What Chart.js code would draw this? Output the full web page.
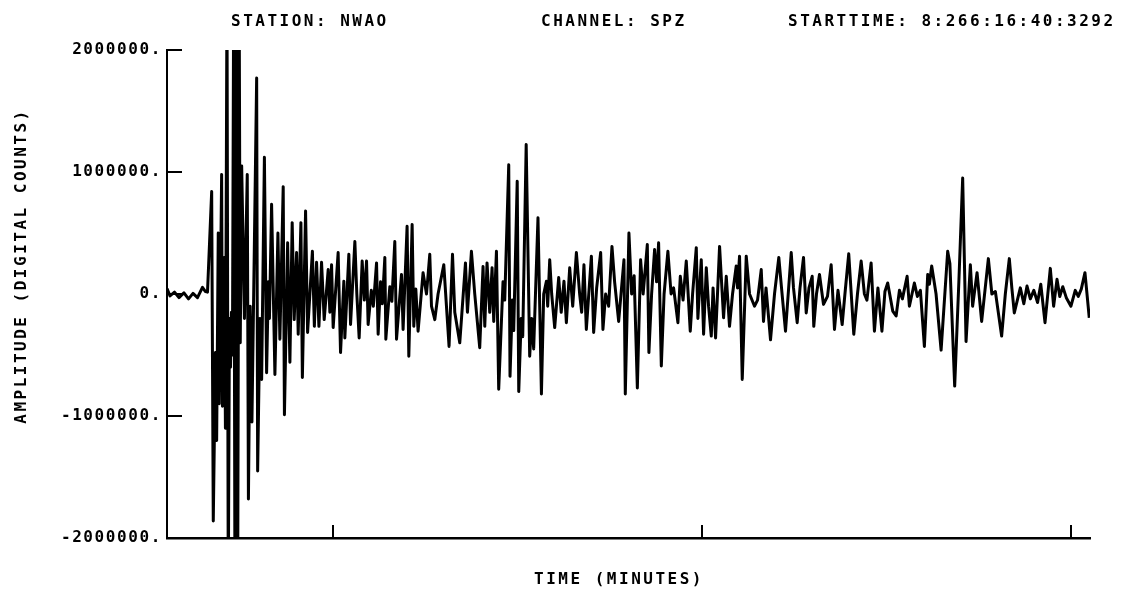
<!DOCTYPE html>
<html><head><meta charset="utf-8">
<script src="https://cdn.jsdelivr.net/npm/chart.js@4.4.1/dist/chart.umd.min.js"></script>
<style>html,body{margin:0;padding:0;background:#fff;}#wrap{width:1130px;height:589px;}</style>
</head><body><div id="wrap"><canvas id="c" width="1130" height="589"></canvas></div>
<script>
const stationLabel = 'STATION: NWAO';
const channelLabel = 'CHANNEL: SPZ';
const startLabel = 'STARTTIME: 8:266:16:40:3292';
const xTitle = 'TIME (MINUTES)';
const yTitle = 'AMPLITUDE (DIGITAL COUNTS)';
const yTickValues = [-2000000, -1000000, 0, 1000000, 2000000];
// minute marks (16:41, 16:42, 16:43) in seconds after the start time
const minuteTicksSec = [27.08, 87.08, 147.08];

const timeSec = [
0.00,0.49,1.22,1.95,2.76,3.50,4.23,4.96,5.77,6.26,6.59,
7.27,7.53,7.89,8.08,8.34,8.50,8.89,9.02,9.32,9.51,9.76,9.97,10.16,10.33,10.49,10.65,10.85,11.06,11.27,11.50,11.74,11.92,
12.15,12.60,13.06,13.25,13.54,13.82,14.59,14.75,15.12,15.40,15.85,16.21,16.50,16.67,17.02,17.56,18.05,18.37,18.91,19.11,
19.63,20.00,20.37,20.70,21.09,21.35,21.79,22.03,22.55,22.88,23.66,23.98,24.34,24.72,25.15,25.58,26.23,26.50,26.78,27.04,
27.85,28.24,28.78,28.94,29.59,29.87,30.57,30.89,31.27,31.76,32.11,32.47,32.73,33.25,33.58,34.10,34.36,34.75,35.04,35.45,
35.61,36.26,36.59,37.07,37.35,38.16,38.42,39.07,39.35,39.89,40.16,40.49,40.86,41.67,42.23,42.76,43.04,43.58,44.11,45.04,
45.90,46.46,46.83,47.64,48.57,48.89,49.54,50.08,50.89,51.43,51.71,52.08,52.52,52.90,53.17,53.61,53.98,54.68,54.96,55.61,
55.82,56.21,56.42,56.99,57.24,57.64,57.89,58.45,59.02,59.35,59.67,60.37,60.93,61.30,61.74,61.95,62.28,62.60,63.09,63.74,
64.15,64.60,64.99,65.53,66.02,66.62,67.15,67.48,67.85,68.24,69.06,69.43,69.92,70.57,70.94,71.38,71.87,72.41,72.84,73.50,
74.36,74.58,75.17,75.61,76.02,76.54,77.07,77.48,78.16,78.42,78.86,79.35,79.67,80.00,80.44,80.89,81.51,82.03,82.44,83.14,
83.53,83.98,84.50,85.15,85.53,86.13,86.39,86.94,87.32,87.76,88.13,88.57,88.86,89.27,89.92,90.57,91.01,91.54,92.03,92.63,
92.84,93.17,93.61,94.26,94.80,95.61,96.10,96.70,97.07,97.48,98.21,98.86,99.56,100.00,100.65,101.58,101.95,102.55,103.01,103.58,
104.02,104.47,104.99,105.25,105.69,106.18,106.83,107.48,108.08,108.62,109.19,109.87,110.32,110.94,111.76,112.36,112.96,113.49,113.90,114.58,
115.12,115.69,116.34,116.83,117.28,118.10,118.65,119.19,119.67,120.44,120.81,121.62,122.11,122.60,123.25,123.79,124.06,124.44,125.15,125.97,
127.04,127.40,128.18,128.86,129.48,130.03,130.73,131.10,131.82,132.57,133.66,134.23,134.80,135.82,136.42,137.07,137.48,137.88,138.86,139.43,
139.95,140.49,141.06,141.67,142.19,142.88,143.74,144.28,144.83,145.28,145.77,146.34,147.10,147.80,148.29,148.78,149.38,150.08
];
const counts = [
45000,-15000,15000,-30000,10000,-40000,5000,-30000,55000,20000,15000,
840000,-1860000,-480000,-1200000,500000,-900000,980000,-920000,300000,-1100000,2500000,-2500000,-200000,-600000,-150000,-500000,2500000,-2500000,2500000,-2500000,2500000,-400000,
1050000,-200000,980000,-1680000,-100000,-1050000,1770000,-1450000,-200000,-700000,1120000,-645000,100000,-200000,735000,-660000,500000,-370000,880000,-990000,
420000,-560000,585000,-210000,340000,-330000,585000,-685000,680000,-315000,350000,-265000,260000,-265000,260000,-210000,200000,-150000,240000,-275000,
340000,-480000,105000,-360000,325000,-250000,430000,0,-360000,270000,-50000,270000,-250000,30000,-100000,255000,-330000,100000,-80000,300000,
-370000,60000,-60000,430000,-370000,160000,-290000,555000,-510000,570000,-265000,40000,-305000,175000,0,325000,-100000,-210000,0,240000,
-430000,325000,-150000,-400000,255000,-150000,350000,0,-440000,225000,-265000,255000,-150000,215000,-225000,350000,-780000,100000,-50000,1060000,
-675000,-50000,-300000,925000,-800000,-200000,-350000,1225000,-510000,-200000,-450000,625000,-820000,0,105000,-100000,280000,0,-275000,135000,
-150000,105000,-235000,215000,-100000,340000,0,-150000,240000,-290000,310000,-315000,50000,340000,-290000,0,-100000,390000,100000,-225000,
280000,-820000,500000,0,150000,-770000,280000,0,405000,-480000,0,365000,100000,420000,-590000,0,350000,0,50000,-235000,
145000,-50000,270000,-305000,0,380000,-200000,280000,-330000,215000,-100000,-345000,50000,-360000,390000,-195000,145000,-265000,0,230000,
50000,310000,-700000,310000,0,-100000,-50000,200000,-225000,50000,-375000,0,300000,50000,-305000,340000,50000,-235000,50000,300000,
-155000,50000,145000,-265000,0,160000,-85000,-20000,240000,-290000,30000,-250000,0,330000,-330000,0,270000,0,-50000,255000,
-305000,50000,-305000,20000,90000,-140000,-180000,30000,-40000,145000,-100000,90000,-20000,30000,-430000,160000,80000,230000,0,-460000,
350000,250000,-755000,100000,950000,-390000,240000,-100000,175000,-225000,290000,0,20000,-345000,0,290000,50000,-155000,50000,-80000,
65000,-40000,30000,-70000,80000,-235000,210000,-100000,120000,-20000,60000,-30000,-100000,30000,-20000,40000,175000,-195000
];

const FONT = '"DejaVu Sans Mono", "Liberation Mono", monospace';

const plotter = {
  id: 'plotter',
  beforeDraw(chart) {
    chart.ctx.letterSpacing = '1.6px';
  },
  afterDraw(chart) {
    const ctx = chart.ctx, a = chart.chartArea;
    const xs = chart.scales.x, ys = chart.scales.y;
    ctx.save();
    ctx.strokeStyle = '#000';
    ctx.lineWidth = 2;
    yTickValues.forEach(v => {
      const py = Math.round(ys.getPixelForValue(v));
      ctx.beginPath(); ctx.moveTo(a.left, py); ctx.lineTo(a.left + 15, py); ctx.stroke();
    });
    minuteTicksSec.forEach(v => {
      const px = Math.round(xs.getPixelForValue(v));
      ctx.beginPath(); ctx.moveTo(px, a.bottom); ctx.lineTo(px, a.bottom - 13); ctx.stroke();
    });
    ctx.fillStyle = '#000';
    ctx.font = 'bold 16px ' + FONT;
    ctx.letterSpacing = '2.5px';
    ctx.textBaseline = 'alphabetic';
    ctx.textAlign = 'left';
    ctx.fillText(stationLabel, 231, 26);
    ctx.fillText(channelLabel, 541, 26);
    ctx.fillText(startLabel, 788, 26);
    ctx.textAlign = 'center';
    ctx.fillText(xTitle, 619, 584);
    ctx.translate(26, 266);
    ctx.rotate(-Math.PI / 2);
    ctx.fillText(yTitle, 0, 0);
    ctx.restore();
  }
};

new Chart(document.getElementById('c'), {
  type: 'line',
  data: {
    datasets: [{
      data: timeSec.map((t, i) => ({ x: t, y: counts[i] })),
      borderColor: '#000',
      borderWidth: 3,
      borderJoinStyle: 'round',
      pointRadius: 0,
      tension: 0,
      fill: false
    }]
  },
  options: {
    responsive: false,
    animation: false,
    events: [],
    layout: { padding: { top: 50, right: 40, left: 0, bottom: 0 } },
    plugins: { legend: { display: false }, title: { display: false }, tooltip: { enabled: false } },
    scales: {
      x: {
        type: 'linear', min: 0, max: 150.2,
        grid: { display: false, drawTicks: false },
        border: { display: true, color: '#000', width: 2.5 },
        ticks: { display: false },
        afterFit(s) { s.height = 51; }
      },
      y: {
        type: 'linear', min: -2000000, max: 2000000,
        afterBuildTicks(s) { s.ticks = yTickValues.map(v => ({ value: v })); },
        grid: { display: false, drawTicks: false },
        border: { display: true, color: '#000', width: 2 },
        ticks: {
          autoSkip: false, padding: 5, color: '#000',
          font: { family: FONT, weight: 'bold', size: 16 },
          callback: v => (v === 0 ? '0' : String(v)) + '.'
        },
        afterFit(s) { s.width = 167; }
      }
    }
  },
  plugins: [plotter]
});
</script></body></html>
